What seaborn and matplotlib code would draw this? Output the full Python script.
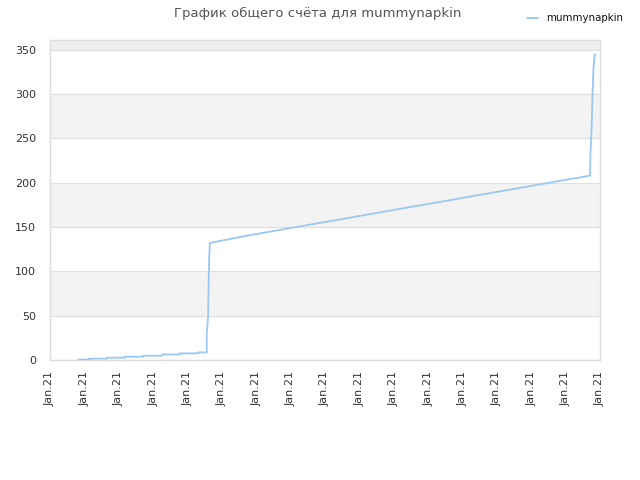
import matplotlib
matplotlib.use("Agg")
import matplotlib.pyplot as plt
import seaborn as sns
import pandas as pd

# data (x in tick units, 0..16); early part is a staircase
x_vals = [0.84, 1.13, 1.13, 1.66, 1.66, 2.18, 2.18, 2.71, 2.71, 3.26, 3.26,
          3.78, 3.78, 4.31, 4.31, 4.56, 4.56, 4.60, 4.61, 4.63, 4.65,
          5.76, 6.87, 7.97, 9.08, 10.18, 11.29, 12.39, 13.50, 14.60, 15.71,
          15.72, 15.76, 15.78, 15.81, 15.85]
scores = [0.5, 0.5, 1.5, 1.5, 2.6, 2.6, 3.7, 3.7, 4.8, 4.8, 6.3,
          6.3, 7.5, 7.5, 8.6, 8.6, 30, 49, 76, 115, 132,
          140.5, 148, 155.5, 163, 170.5, 178, 185.5, 193, 200.5, 208,
          230, 265, 297, 329, 345]
tick_labels = ["Jan.21"] * 17
player = "mummynapkin"
title = "График общего счёта для mummynapkin"

df = pd.DataFrame({"x": x_vals, "score": scores, "player": player})

sns.set_style("white")
plt.rcParams['font.family'] = ['DejaVu Sans']
fig = plt.figure(figsize=(6.4, 4.8), dpi=100)
ax = fig.add_axes([50/640, 120/480, 550/640, 320/480])

ymax = 361
for lo in range(0, 400, 50):
    hi = min(lo + 50, ymax)
    if (lo // 50) % 2 == 1:
        ax.axhspan(lo, hi, color="#efefef" if lo >= 350 else "#f3f3f3", zorder=0, lw=0)
for g in range(0, 351, 50):
    ax.axhline(g, color="#e0e0e0", lw=0.9, zorder=1)

sns.lineplot(data=df, x="x", y="score", hue="player", palette=["#99c8f4"],
             sort=False, estimator=None, lw=1.3, ax=ax, zorder=3)

ax.set_xlim(0, 16)
ax.set_ylim(0, ymax)
ax.set_xticks(range(17))
ax.set_xticklabels(tick_labels, rotation=90, fontsize=8, color="#333333")
ax.set_yticks(range(0, 351, 50))
ax.set_yticklabels([str(v) for v in range(0, 351, 50)], fontsize=8, color="#333333")
ax.tick_params(axis="both", length=0)
ax.tick_params(axis="x", pad=8)
ax.tick_params(axis="y", pad=10)
ax.set_xlabel("")
ax.set_ylabel("")
for s in ax.spines.values():
    s.set_color("#dddddd")
    s.set_linewidth(1)

fig.text(318/640, 1 - 13/480, title, ha="center", va="center", fontsize=9.5, color="#555555")
leg = ax.legend(loc="upper right", bbox_to_anchor=(632/640, 1 - 4/480),
                bbox_transform=fig.transFigure, frameon=False, fontsize=7.4,
                handlelength=1.0, handletextpad=0.8)
for t in leg.get_texts():
    t.set_color("#111111")

fig.savefig("out.png", dpi=100)
